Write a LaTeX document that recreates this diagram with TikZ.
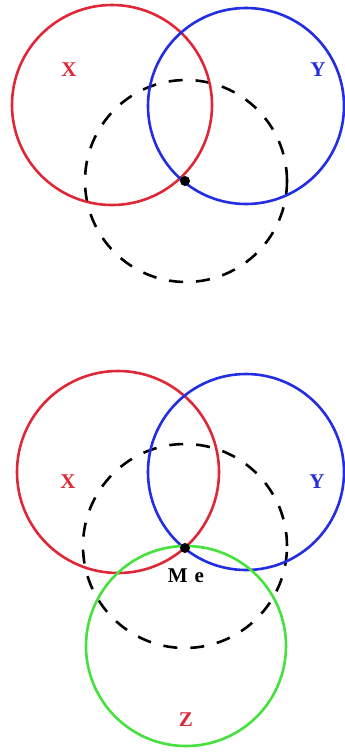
\documentclass[tikz,border=0pt]{standalone}
\usepackage{fontspec}
\setmainfont{Liberation Serif}
\definecolor{cred}{RGB}{222,40,55}
\definecolor{cblue}{RGB}{35,45,225}
\definecolor{cgreen}{RGB}{70,225,60}
\tikzset{
  ring/.style={circle, line width=2.6pt, minimum size=#1, inner sep=0pt},
  dashring/.style={circle, draw=black, line width=2.6pt, dash pattern=on 14pt off 13pt, minimum size=#1, inner sep=0pt},
  lbl/.style={font=\bfseries\fontsize{21}{23}\selectfont, inner sep=0pt},
  pt/.style={circle, fill=black, minimum size=10pt, inner sep=0pt}
}
\begin{document}
\begin{tikzpicture}[x=1pt,y=-1pt]
\useasboundingbox (0,0) rectangle (345,753);
% top panel
\node[dashring=202pt] (d1) at (186,181) {};
\node[ring=200pt, draw=cred] (x1) at (112,105) {};
\node[ring=196pt, draw=cblue] (y1) at (246,106) {};
\node[pt] (p1) at (185,181) {};
\node[lbl, text=cred] (lx1) at (69,70) {X};
\node[lbl, text=cblue] (ly1) at (318,70) {Y};
% bottom panel
\node[dashring=204pt] (d2) at (185,546) {};
\node[ring=202pt, draw=cred] (x2) at (118,472) {};
\node[ring=196pt, draw=cblue] (y2) at (246,472) {};
\node[ring=200pt, draw=cgreen] (z2) at (186,646) {};
\node[pt] (p2) at (185,548) {};
\node[lbl, text=cred] (lx2) at (68,482) {X};
\node[lbl, text=cblue] (ly2) at (317,482) {Y};
\node[lbl, text=black] (lme) at (186,576) {M\hspace{7pt}e};
\node[lbl, text=cred] (lz) at (186,720) {Z};
\end{tikzpicture}
\end{document}
